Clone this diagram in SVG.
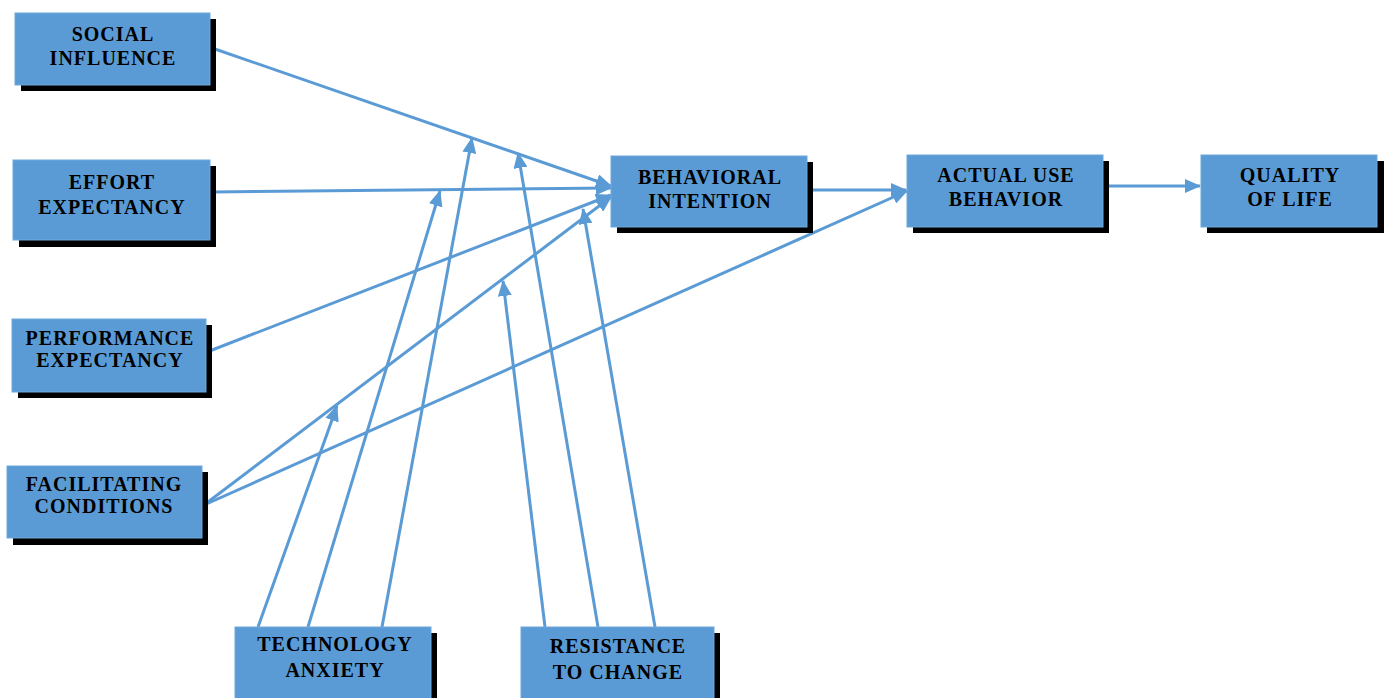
<svg xmlns="http://www.w3.org/2000/svg" width="1387" height="698" viewBox="0 0 1387 698">
<defs>
<style>
.box{fill:#5b9bd5;stroke:#6fa8dc;stroke-width:1}
.sh{fill:#000}
.t{font-family:"Liberation Serif","DejaVu Serif",serif;font-weight:bold;font-size:20px;fill:#000;text-anchor:middle;letter-spacing:1px}
.c{stroke:#5b9bd5;stroke-width:3;fill:none;marker-end:url(#ah)}
</style>
<marker id="ah" markerUnits="userSpaceOnUse" markerWidth="16" markerHeight="14" viewBox="0 0 16 14" refX="15" refY="7" orient="auto">
<path d="M0,0 L16,7 L0,14 Z" fill="#5b9bd5"/>
</marker>
</defs>
<rect width="1387" height="698" fill="#fff"/>
<g id="connectors">
<line class="c" x1="212" y1="48" x2="611" y2="186"/>
<line class="c" x1="212" y1="192" x2="611" y2="188"/>
<line class="c" x1="207" y1="352" x2="611" y2="195"/>
<line class="c" x1="204" y1="505" x2="611" y2="197"/>
<line class="c" x1="204" y1="505" x2="907" y2="191"/>
<line class="c" x1="808" y1="190" x2="906" y2="190"/>
<line class="c" x1="1103" y1="186" x2="1200" y2="186"/>
<line class="c" x1="258" y1="627" x2="337" y2="406"/>
<line class="c" x1="308" y1="627" x2="440" y2="191"/>
<line class="c" x1="382" y1="627" x2="472" y2="138"/>
<line class="c" x1="545" y1="627" x2="503" y2="281"/>
<line class="c" x1="598" y1="627" x2="518" y2="153"/>
<line class="c" x1="655" y1="627" x2="583" y2="209"/>
</g>
<g id="social-influence">
<rect class="sh" x="21" y="19" width="195" height="72"/>
<rect class="box" x="15" y="13" width="195" height="72"/>
<text class="t" x="113" y="41">SOCIAL</text>
<text class="t" x="113" y="65">INFLUENCE</text>
</g>
<g id="effort-expectancy">
<rect class="sh" x="19" y="166" width="197" height="81"/>
<rect class="box" x="13" y="160" width="197" height="80"/>
<text class="t" x="112" y="189">EFFORT</text>
<text class="t" x="112" y="214">EXPECTANCY</text>
</g>
<g id="performance-expectancy">
<rect class="sh" x="18" y="325" width="194" height="73"/>
<rect class="box" x="12" y="319" width="194" height="73"/>
<text class="t" x="110" y="345">PERFORMANCE</text>
<text class="t" x="110" y="367">EXPECTANCY</text>
</g>
<g id="facilitating-conditions">
<rect class="sh" x="13" y="472" width="195" height="73"/>
<rect class="box" x="7" y="466" width="195" height="72"/>
<text class="t" x="104" y="491">FACILITATING</text>
<text class="t" x="104" y="513">CONDITIONS</text>
</g>
<g id="behavioral-intention">
<rect class="sh" x="617" y="162" width="196" height="71"/>
<rect class="box" x="611" y="156" width="196" height="71"/>
<text class="t" x="710" y="184">BEHAVIORAL</text>
<text class="t" x="710" y="208">INTENTION</text>
</g>
<g id="actual-use-behavior">
<rect class="sh" x="913" y="161" width="196" height="72"/>
<rect class="box" x="907" y="155" width="196" height="72"/>
<text class="t" x="1006" y="182">ACTUAL USE</text>
<text class="t" x="1006" y="206">BEHAVIOR</text>
</g>
<g id="quality-of-life">
<rect class="sh" x="1207" y="161" width="177" height="72"/>
<rect class="box" x="1201" y="155" width="176" height="72"/>
<text class="t" x="1290" y="182">QUALITY</text>
<text class="t" x="1290" y="206">OF LIFE</text>
</g>
<g id="technology-anxiety">
<rect class="sh" x="241" y="633" width="196" height="70"/>
<rect class="box" x="235" y="627" width="196" height="75"/>
<text class="t" x="335" y="651">TECHNOLOGY</text>
<text class="t" x="335" y="677">ANXIETY</text>
</g>
<g id="resistance-to-change">
<rect class="sh" x="527" y="633" width="193" height="70"/>
<rect class="box" x="521" y="627" width="193" height="75"/>
<text class="t" x="618" y="653">RESISTANCE</text>
<text class="t" x="618" y="679">TO CHANGE</text>
</g>
</svg>
